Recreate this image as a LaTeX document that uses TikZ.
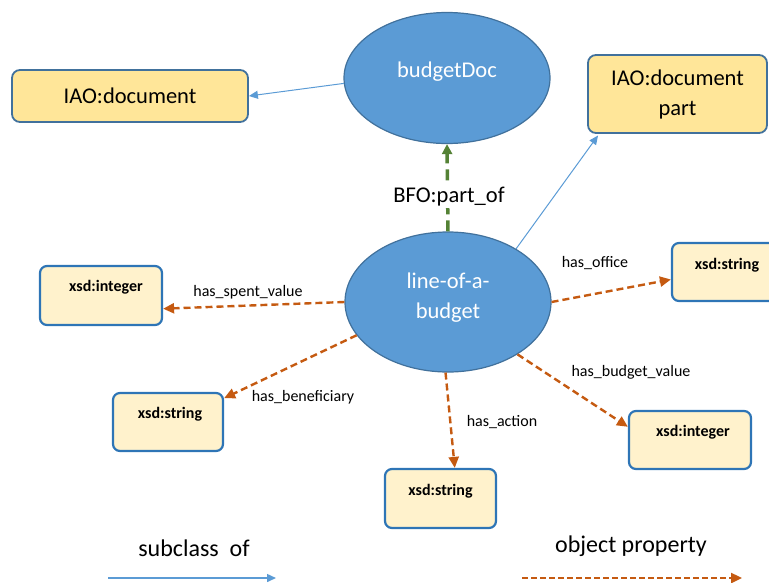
\documentclass[tikz,border=0pt]{standalone}
\usepackage{fontspec}
\setmainfont{Carlito}
\usetikzlibrary{shapes.geometric,arrows.meta}

\definecolor{ellfill}{HTML}{5B9BD5}
\definecolor{ellborder}{HTML}{41719C}
\definecolor{iaofill}{HTML}{FFE699}
\definecolor{iaoborder}{HTML}{41719C}
\definecolor{xsdfill}{HTML}{FFF2CC}
\definecolor{xsdborder}{HTML}{2E75B6}
\definecolor{subblue}{HTML}{5B9BD5}
\definecolor{propor}{HTML}{C55A11}
\definecolor{partgreen}{HTML}{548235}

\tikzset{
  cls/.style={ellipse, draw=ellborder, fill=ellfill, line width=1.2pt, inner sep=0pt},
  intext/.style={text=white, align=center, font=\fontsize{22.5}{30}\selectfont},
  iao/.style={rectangle, rounded corners=8pt, draw=iaoborder, fill=iaofill, line width=1.8pt,
    inner sep=0pt, align=center, font=\fontsize{22.5}{30}\selectfont},
  xsd/.style={rectangle, rounded corners=7pt, draw=xsdborder, fill=xsdfill, line width=2.2pt, inner sep=0pt},
  xsdtext/.style={font=\fontsize{16}{19}\selectfont\bfseries},
  proplabel/.style={font=\fontsize{16}{19}\selectfont, inner sep=0pt},
  legendtext/.style={font=\fontsize{24}{28}\selectfont, inner sep=0pt},
  sub/.style={draw=subblue, line width=1pt, -{Triangle[length=9pt,width=8pt]}},
  prop/.style={draw=propor, line width=2.4pt, dash pattern=on 7pt off 4pt, -{Triangle[length=11pt,width=10pt]}},
  part/.style={draw=partgreen, line width=3.5pt, dash pattern=on 11pt off 6pt, -{Triangle[length=10pt,width=10pt]}}
}

\begin{document}
\begin{tikzpicture}[x=1pt, y={(0pt,-1pt)}]
\useasboundingbox (0,0) rectangle (769,582);

% classes
\node[cls, minimum width=206pt, minimum height=131pt,
  label={[intext, yshift=6pt]center:budgetDoc}] (bd) at (447,78) {};
\node[cls, minimum width=206pt, minimum height=140pt,
  label={[intext, yshift=4pt]center:line-of-a-\\budget}] (lb) at (448,302) {};

% external classes
\node[iao, minimum width=236pt, minimum height=52pt] (iaod) at (130,96) {IAO:document};
\node[iao, minimum width=179pt, minimum height=78pt] (iaop) at (677.5,94) {IAO:document\\part};

% datatypes
\node[xsd, minimum width=122pt, minimum height=59pt,
  label={[xsdtext, xshift=5pt, yshift=8.5pt]center:xsd:integer}] (xl) at (101,295.5) {};
\node[xsd, minimum width=110pt, minimum height=58pt,
  label={[xsdtext, xshift=2pt, yshift=8pt]center:xsd:string}] (xsl) at (168,422) {};
\node[xsd, minimum width=111pt, minimum height=59pt,
  label={[xsdtext, yshift=7.5pt]center:xsd:string}] (xsb) at (440.5,498.5) {};
\node[xsd, minimum width=122pt, minimum height=58pt,
  label={[xsdtext, xshift=3pt, yshift=8pt]center:xsd:integer}] (xir) at (690,440) {};
\node[xsd, minimum width=120pt, minimum height=58pt,
  label={[xsdtext, xshift=-5pt, yshift=7pt]center:xsd:string}] (xsr) at (732,272) {};

% subclass links
\draw[sub] (bd.183) -- (iaod.east);
\draw[sub, shorten >=2pt] (lb.38) -- (iaop.207);

% part-of link
\draw[part] (lb.north) -- (bd.south);
\node[fill=white, inner sep=1pt, font=\fontsize{22.5}{27}\selectfont] (bfo) at (449,197) {BFO:part\_of};

% object properties
\draw[prop] (lb.west) -- (xl.-12);
\draw[prop] (lb.200) -- (xsl.23);
\draw[prop] (lb.268) -- (xsb.65);
\draw[prop] (lb.-37) -- (xir.168);
\draw[prop] (lb.east) -- (xsr.187);

\node[proplabel] (lspent) at (248,292) {has\_spent\_value};
\node[proplabel] (lbenef) at (303,397) {has\_beneficiary};
\node[proplabel] (laction) at (502,422) {has\_action};
\node[proplabel] (lbudget) at (631,372) {has\_budget\_value};
\node[proplabel] (loffice) at (595,263) {has\_office};

% legend
\node[legendtext] (legsub) at (194,548) {subclass\ \ of};
\node[legendtext] (legprop) at (631,546) {object property};
\coordinate (s1) at (108,578);
\coordinate (s2) at (276,578);
\draw[sub, line width=1.5pt] (s1) -- (s2);
\coordinate (p1) at (522,578);
\coordinate (p2) at (742,578);
\draw[prop, dash pattern=on 6pt off 3pt] (p1) -- (p2);
\end{tikzpicture}
\end{document}
